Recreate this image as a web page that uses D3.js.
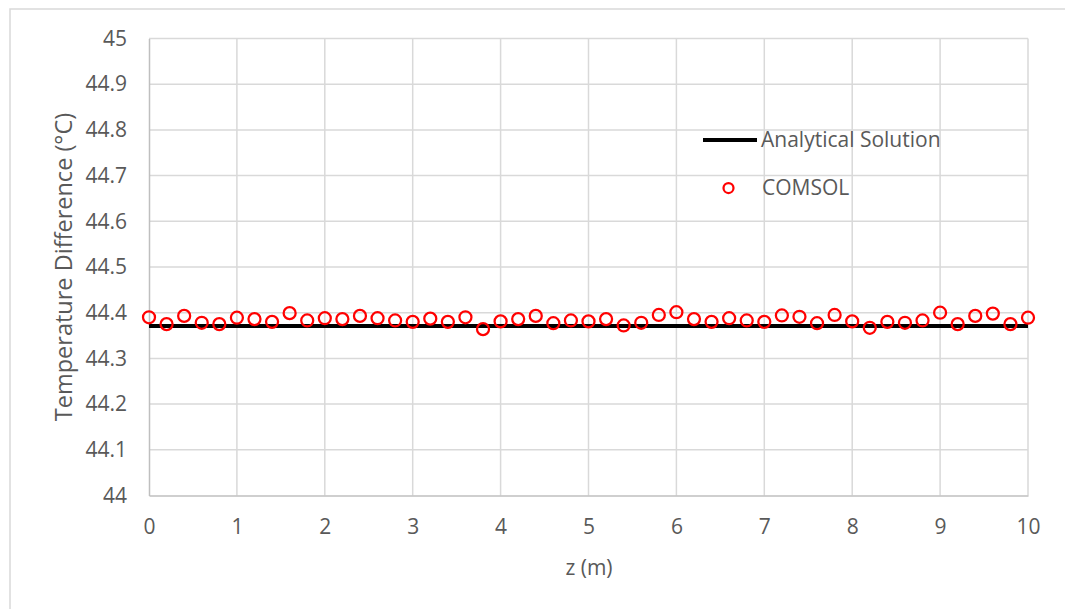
<!DOCTYPE html>
<html>
<head>
<meta charset="utf-8">
<script src="https://cdn.jsdelivr.net/npm/d3@7"></script>
<style>
  html, body { margin: 0; padding: 0; background: #fff; }
  svg { display: block; }
  text { font-family: "Open Sans", sans-serif; fill: #595959; }
</style>
</head>
<body>
<svg id="chart" width="1065" height="609"></svg>
<script>
// Positions along the pipe (m)
const zValues = [0, 0.2, 0.4, 0.6, 0.8, 1.0, 1.2, 1.4, 1.6, 1.8,
                 2.0, 2.2, 2.4, 2.6, 2.8, 3.0, 3.2, 3.4, 3.6, 3.8,
                 4.0, 4.2, 4.4, 4.6, 4.8, 5.0, 5.2, 5.4, 5.6, 5.8,
                 6.0, 6.2, 6.4, 6.6, 6.8, 7.0, 7.2, 7.4, 7.6, 7.8,
                 8.0, 8.2, 8.4, 8.6, 8.8, 9.0, 9.2, 9.4, 9.6, 9.8, 10.0];
// COMSOL temperature difference (°C)
const comsolValues = [44.390, 44.375, 44.393, 44.378, 44.375, 44.389, 44.386, 44.380, 44.399, 44.383,
                      44.388, 44.386, 44.393, 44.388, 44.383, 44.380, 44.387, 44.380, 44.390, 44.364,
                      44.381, 44.386, 44.393, 44.377, 44.383, 44.381, 44.386, 44.372, 44.378, 44.395,
                      44.401, 44.386, 44.380, 44.388, 44.383, 44.380, 44.394, 44.391, 44.377, 44.395,
                      44.381, 44.367, 44.380, 44.378, 44.383, 44.400, 44.375, 44.393, 44.398, 44.375, 44.389];
// Analytical solution: constant temperature difference over z
const analyticalZ = [0, 10];
const analyticalValues = [44.371, 44.371];

const xTicks = [0, 1, 2, 3, 4, 5, 6, 7, 8, 9, 10];
const yTicks = [44, 44.1, 44.2, 44.3, 44.4, 44.5, 44.6, 44.7, 44.8, 44.9, 45];

const svg = d3.select("#chart");

// chart frame
svg.append("rect")
  .attr("x", 10).attr("y", 9)
  .attr("width", 1070).attr("height", 620)
  .attr("fill", "#fff")
  .attr("stroke", "#d9d9d9").attr("stroke-width", 1.5);

const plot = { left: 149, right: 1028, top: 38.5, bottom: 495.5 };

const x = d3.scaleLinear().domain([0, 10]).range([plot.left, plot.right]);
const y = d3.scaleLinear().domain([44, 45]).range([plot.bottom, plot.top]);

// gridlines
const grid = svg.append("g");
grid.selectAll("line.h").data(yTicks.slice(1)).join("line")
  .attr("x1", plot.left).attr("x2", plot.right)
  .attr("y1", d => y(d)).attr("y2", d => y(d))
  .attr("stroke", "#d9d9d9").attr("stroke-width", 1.5);
grid.selectAll("line.v").data(xTicks.slice(1)).join("line")
  .attr("y1", plot.top).attr("y2", plot.bottom)
  .attr("x1", d => x(d)).attr("x2", d => x(d))
  .attr("stroke", "#d9d9d9").attr("stroke-width", 1.5);

// axes
const xAxis = svg.append("g")
  .attr("transform", `translate(0,${plot.bottom})`)
  .call(d3.axisBottom(x).tickValues(xTicks).tickFormat(d3.format("d")).tickSize(0).tickPadding(24));
const yAxis = svg.append("g")
  .attr("transform", `translate(${plot.left},0)`)
  .call(d3.axisLeft(y).tickValues(yTicks).tickFormat(d => d3.format("")(+d.toFixed(1))).tickSize(0).tickPadding(22));

[xAxis, yAxis].forEach(a => {
  a.select(".domain").attr("stroke", "#bfbfbf").attr("stroke-width", 1.5);
  a.selectAll("text").style("font-size", "21px").style("font-family", "'Open Sans', sans-serif").attr("fill", "#595959");
});

// analytical line
const line = d3.line().x(d => x(d[0])).y(d => y(d[1]));
svg.append("path")
  .datum(analyticalZ.map((z, i) => [z, analyticalValues[i]]))
  .attr("d", line)
  .attr("fill", "none")
  .attr("stroke", "#000")
  .attr("stroke-width", 4);

// COMSOL markers
svg.append("g").selectAll("circle")
  .data(zValues.map((z, i) => [z, comsolValues[i]]))
  .join("circle")
  .attr("cx", d => x(d[0]))
  .attr("cy", d => y(d[1]))
  .attr("r", 6)
  .attr("fill", "none")
  .attr("stroke", "#ff0000")
  .attr("stroke-width", 2.25);

// axis titles
svg.append("text")
  .attr("x", 589).attr("y", 575)
  .attr("text-anchor", "middle")
  .style("font-size", "21px")
  .text("z (m)");
svg.append("text")
  .attr("transform", "translate(72,267) rotate(-90)")
  .attr("text-anchor", "middle")
  .style("font-size", "23.5px")
  .text("Temperature Difference (°C)");

// legend
const legend = svg.append("g");
legend.append("line")
  .attr("x1", 703).attr("x2", 757).attr("y1", 140).attr("y2", 140)
  .attr("stroke", "#000").attr("stroke-width", 4);
legend.append("text")
  .attr("x", 761).attr("y", 147)
  .style("font-size", "21px")
  .text("Analytical Solution");
legend.append("circle")
  .attr("cx", 728.5).attr("cy", 188)
  .attr("r", 5)
  .attr("fill", "none")
  .attr("stroke", "#ff0000").attr("stroke-width", 2.25);
legend.append("text")
  .attr("x", 762).attr("y", 195)
  .style("font-size", "21px")
  .text("COMSOL");
</script>
</body>
</html>
